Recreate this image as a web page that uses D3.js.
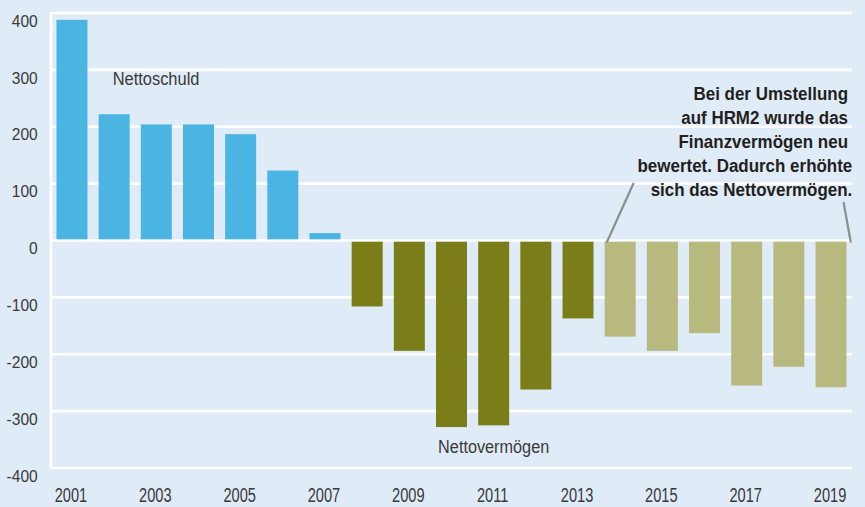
<!DOCTYPE html>
<html><head><meta charset="utf-8">
<script src="https://cdn.jsdelivr.net/npm/d3@7"></script>
<style>
html,body{margin:0;padding:0;background:#dfebf7;}
svg{display:block;}
text{font-family:"Liberation Sans",Arial,sans-serif;fill:#333;}
</style></head>
<body>
<svg id="c" width="865" height="507"></svg>
<script>
const years = [2001,2002,2003,2004,2005,2006,2007,2008,2009,2010,2011,2012,2013,2014,2015,2016,2017,2018,2019];
const values = [388,222,204,204,187,123,13,-116,-194,-328,-325,-262,-137,-169,-194,-163,-255,-222,-258];
const yTicks = [400,300,200,100,0,-100,-200,-300,-400];
const xTickYears = [2001,2003,2005,2007,2009,2011,2013,2015,2017,2019];
const labelDebt = "Nettoschuld";
const labelAssets = "Nettovermögen";
const noteLines = ["Bei der Umstellung","auf HRM2 wurde das","Finanzvermögen neu","bewertet. Dadurch erhöhte","sich das Nettovermögen."];

const W = 865, H = 507;
const mLeft = 51, mRight = 852, mTop = 13, mBottom = 468;
const svg = d3.select("#c");
svg.append("rect").attr("width",W).attr("height",H).attr("fill","#dfebf7");

const x = d3.scaleBand().domain(years).range([mLeft,mRight]).paddingInner(0.265).paddingOuter(0.13);
const y = d3.scaleLinear().domain([-400,400]).range([mBottom,mTop]);

// text helper with horizontal condensing
function label(g, tx, ty, str, opts){
  const sx = opts.sx || 1;
  return g.append("text")
    .attr("transform",`translate(${tx},${ty}) scale(${sx},1)`)
    .attr("text-anchor",opts.anchor||"start")
    .attr("font-size",opts.size)
    .attr("font-weight",opts.weight||"normal")
    .style("fill",opts.fill||"#333")
    .text(str);
}

// gridlines
svg.append("g").selectAll("line").data(yTicks).join("line")
  .attr("x1",mLeft).attr("x2",mRight)
  .attr("y1",d=>y(d)).attr("y2",d=>y(d))
  .attr("stroke","#fff").attr("stroke-width",2.6);
svg.append("line").attr("x1",mLeft).attr("x2",mLeft).attr("y1",mTop-1.3).attr("y2",mBottom+1.3)
  .attr("stroke","#fff").attr("stroke-width",2.6);

// y labels
const gy = svg.append("g");
yTicks.forEach(d=>label(gy, mLeft-13.3, y(d)+13.7, d, {anchor:"end", size:17.3, sx:0.9, fill:"#3a3a3a"}));

// x labels
const gx = svg.append("g");
xTickYears.forEach(d=>label(gx, x(d)+x.bandwidth()/2-1, 502.3, d, {anchor:"middle", size:19.5, sx:0.75, fill:"#3a3a3a"}));

function color(yr,v){
  if(v>=0) return "#4ab4e2";
  if(yr<=2013) return "#7b7e18";
  return "#b8b97f";
}
svg.append("g").selectAll("rect").data(years.map((yr,i)=>({yr,v:values[i]}))).join("rect")
  .attr("x",d=>x(d.yr)).attr("width",x.bandwidth())
  .attr("y",d=>y(Math.max(0,d.v))+(d.v<0?1.2:0))
  .attr("height",d=>Math.abs(y(d.v)-y(0))-1.2)
  .attr("fill",d=>color(d.yr,d.v));

// series labels
label(svg, x(2002)+14, 85, labelDebt, {size:17.5, sx:0.94, fill:"#3a3a3a"});
label(svg, x(2011)+x.bandwidth()/2, 453, labelAssets, {anchor:"middle", size:17.5, sx:0.93, fill:"#3a3a3a"});

// annotation
const gn = svg.append("g");
noteLines.forEach((l,i)=>{
  label(gn, i<3 ? 848 : 852.3, 99.5+i*24.1, l, {anchor:"end", size:17.5, weight:"bold", sx:0.97, fill:"#231f20"});
});
const lineColor = "#8c8e90";
svg.append("line").attr("x1",x(2014)+2).attr("y1",y(0)+2).attr("x2",x(2014)+29).attr("y2",183)
  .attr("stroke",lineColor).attr("stroke-width",2.2);
svg.append("line").attr("x1",x(2019)+x.bandwidth()+4.3).attr("y1",y(0)+2).attr("x2",x(2019)+x.bandwidth()-3).attr("y2",202)
  .attr("stroke",lineColor).attr("stroke-width",2.2);
</script>
</body></html>
